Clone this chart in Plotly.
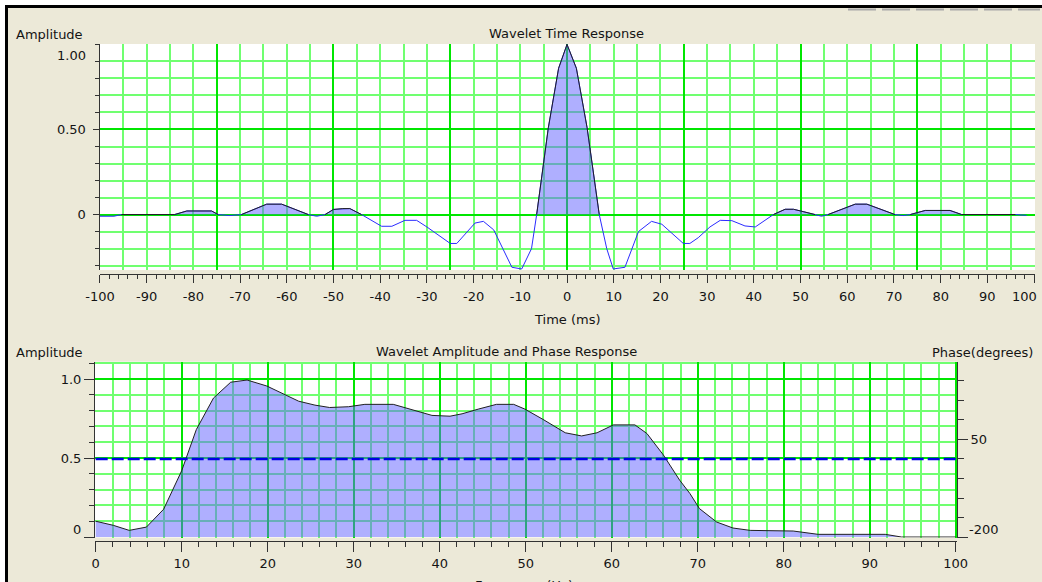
import plotly.graph_objects as go

W, H = 1042, 582


def px(x):
    return x / W


def py(y):
    return 1 - y / H


# ---------------- data ----------------
time_ms = [-100, -97, -95.4, -84, -81.4, -76.1, -74.7, -72.2, -69.7, -67.2, -64.3, -61.1,
           -57.2, -55.4, -53.6, -51.8, -50, -48, -46.5, -44, -39.7, -37.5, -34.7, -32.2,
           -30, -25, -23.6, -19.7, -17.9, -15.7, -11.8, -9.7, -7.6, -6.5, -4, -1.8, 0,
           2, 4.3, 6.9, 8.5, 9.9, 12.4, 15.3, 18.1, 20.3, 24.9, 26.3, 28.1, 30.6, 32.8,
           35.3, 38.1, 40.3, 44.2, 46.7, 48.5, 50.6, 53.1, 54.5, 55.9, 61.7, 64.2, 70.2,
           72, 73.5, 76.7, 82, 84.5, 96, 98.4]
amp_time = [-0.01, -0.01, 0, 0, 0.021, 0.021, 0, -0.006, 0, 0.03, 0.061, 0.061,
            0.021, 0, -0.01, 0, 0.03, 0.035, 0.035, 0, -0.069, -0.069, -0.034, -0.034,
            -0.073, -0.17, -0.17, -0.05, -0.04, -0.09, -0.31, -0.32, -0.2, 0, 0.51, 0.86, 1.0,
            0.86, 0.51, 0, -0.2, -0.32, -0.31, -0.10, -0.04, -0.057, -0.17, -0.17, -0.136, -0.073, -0.034,
            -0.036, -0.067, -0.073, 0, 0.031, 0.031, 0.017, 0, -0.01, 0, 0.061, 0.061, 0,
            -0.006, 0, 0.024, 0.024, 0, 0, -0.005]

freq_hz = [0, 2.05, 3.9, 5.9, 7.9, 10, 11.7, 13.7, 15.7, 17.6, 19.9, 22, 23.6, 25.5,
           27.2, 29.4, 31.3, 34.6, 36.6, 39.1, 41.2, 42.6, 44.5, 46.6, 48.6, 49.9, 52,
           54.6, 56.5, 58.3, 60.2, 62.7, 64.1, 66, 67.9, 69.1, 70.2, 72.2, 74.1, 76.1,
           81.1, 81.9, 84, 91.8, 93.5, 93.7, 100]
amp_freq = [0.10, 0.074, 0.042, 0.063, 0.176, 0.42, 0.68, 0.88, 0.98, 0.994, 0.956, 0.90,
            0.86, 0.835, 0.82, 0.825, 0.84, 0.84, 0.81, 0.77, 0.765, 0.78, 0.81, 0.84, 0.84,
            0.81, 0.745, 0.66, 0.64, 0.66, 0.71, 0.71, 0.655, 0.52, 0.36, 0.275, 0.18, 0.095,
            0.057, 0.042, 0.038, 0.032, 0.017, 0.017, 0.004, 0, 0]

phase_freq = [0, 100]
phase_deg = [0, 0]

x_top_ticks = list(range(-100, 101, 10))
# the last label ("100") is drawn pulled inside the frame, as in the original
x_top_text = [str(v) for v in x_top_ticks[:-1]] + [""]
x_bot_ticks = list(range(0, 101, 10))
x_bot_text = [str(v) for v in x_bot_ticks]

# positive lobes of the time response (filled)
amp_time_pos = [a if a >= 0 else None for a in amp_time]

# ---------------- styles ----------------
FONT = "DejaVu Sans"
TXT = "#141414"
BOLD = "#00e600"
THIN = "#70ff70"
FILL = "rgba(96,96,255,0.5)"
BG = "#ece9d8"

fig = go.Figure()
fig.add_trace(go.Scatter(x=time_ms, y=amp_time, mode="lines",
                         line=dict(color="#2b2bff", width=1),
                         xaxis="x", yaxis="y", hoverinfo="skip"))
fig.add_trace(go.Scatter(x=time_ms, y=amp_time_pos, mode="lines", connectgaps=False,
                         line=dict(color="#202020", width=1),
                         fill="tozeroy", fillcolor=FILL,
                         xaxis="x3", yaxis="y"))
fig.add_trace(go.Scatter(x=freq_hz, y=amp_freq, mode="lines",
                         line=dict(color="#202020", width=1),
                         fill="tozeroy", fillcolor=FILL,
                         xaxis="x2", yaxis="y2"))
fig.add_trace(go.Scatter(x=phase_freq, y=phase_deg, mode="lines",
                         line=dict(color="#0000e6", width=2.5, dash="12px,4px"),
                         xaxis="x2", yaxis="y4"))

tickfont = dict(family=FONT, size=13, color=TXT)

top_dom_x = [px(99.5), px(1035)]
top_dom_y = [py(270), py(44)]
bot_dom_x = [px(95), px(957)]
bot_dom_y = [py(537.5), py(361.7)]

fig.update_layout(
    template="none",
    width=W, height=H, autosize=False,
    margin=dict(l=0, r=0, t=0, b=0, pad=0, autoexpand=False),
    paper_bgcolor=BG, plot_bgcolor="white",
    showlegend=False,
    font=dict(family=FONT, size=13, color=TXT),
    # ----- top: grid axis -----
    xaxis=dict(domain=top_dom_x, range=[-100.1, 100.2], anchor="y", automargin=False,
               tickmode="linear", tick0=0, dtick=25,
               showgrid=True, gridcolor=BOLD, gridwidth=2,
               minor=dict(dtick=5, tick0=0, showgrid=True, gridcolor=THIN, gridwidth=1.5),
               showticklabels=False, ticks="", zeroline=False, showline=False),
    # ----- top: label axis -----
    xaxis3=dict(overlaying="x", range=[-100.1, 100.2], anchor="free", position=py(274),
                automargin=False,
                tickmode="array", tickvals=x_top_ticks, ticktext=x_top_text,
                ticks="outside", ticklen=8, tickcolor="#333", tickwidth=1,
                minor=dict(dtick=2, tick0=0, ticks="outside", ticklen=4, tickcolor="#333", showgrid=False),
                showgrid=False, zeroline=False, showline=True, linecolor="#333", linewidth=1,
                tickfont=tickfont, ticklabelstandoff=2),
    yaxis=dict(domain=top_dom_y, range=[-0.326, 1.0025], anchor="x", automargin=False,
               tickmode="array", tickvals=[0, 0.5], ticktext=["0", "0.50"],
               showgrid=True, gridcolor=BOLD, gridwidth=2,
               minor=dict(dtick=0.1, tick0=0, ticks="outside", ticklen=4, tickcolor="#333",
                          showgrid=True, gridcolor=THIN, gridwidth=1.5),
               ticks="outside", ticklen=6, tickcolor="#333",
               zeroline=False, showline=True, linecolor="#333", linewidth=1,
               tickfont=tickfont, ticklabelstandoff=4),
    # ----- bottom -----
    xaxis2=dict(domain=bot_dom_x, range=[-0.08, 100.15], anchor="free", position=py(541),
                automargin=False,
                tickmode="array", tickvals=x_bot_ticks, ticktext=x_bot_text,
                showgrid=True, gridcolor=BOLD, gridwidth=2,
                minor=dict(dtick=2, tick0=0, ticks="outside", ticklen=5, tickcolor="#333",
                           showgrid=True, gridcolor=THIN, gridwidth=1.5),
                ticks="outside", ticklen=10, tickcolor="#333",
                zeroline=False, showline=True, linecolor="#333", linewidth=1,
                tickfont=tickfont),
    yaxis2=dict(domain=bot_dom_y, range=[-0.003, 1.11], anchor="x2", automargin=False,
                tickmode="array", tickvals=[0, 0.5, 1.0], ticktext=["", "0.5", "1.0"],
                showgrid=True, gridcolor=BOLD, gridwidth=2,
                minor=dict(dtick=0.1, tick0=0, ticks="outside", ticklen=5, tickcolor="#333",
                           showgrid=True, gridcolor=THIN, gridwidth=1.5),
                ticks="outside", ticklen=10, tickcolor="#333",
                zeroline=False, showline=True, linecolor="#333", linewidth=1,
                tickfont=tickfont),
    yaxis4=dict(overlaying="y2", side="right", anchor="x2", range=[-200.5, 248], automargin=False,
                tickmode="array", tickvals=[-200, 50], ticktext=["", "50"],
                minor=dict(dtick=50, tick0=0, ticks="outside", ticklen=6, tickcolor="#333", showgrid=False),
                ticks="outside", ticklen=10, tickcolor="#333",
                showgrid=False, zeroline=False, showline=True, linecolor="#333", linewidth=1,
                tickfont=tickfont),
)

ann = [
    dict(text="Amplitude", x=px(14), y=py(34), xanchor="left"),
    dict(text="Wavelet Time Response", x=px(566), y=py(33), xanchor="center"),
    dict(text="Time (ms)", x=px(567), y=py(319), xanchor="center"),
    dict(text="1.00", x=px(88), y=py(55), xanchor="right"),
    dict(text="100", x=px(1024), y=py(296), xanchor="center"),
    dict(text="Amplitude", x=px(14), y=py(352), xanchor="left"),
    dict(text="Wavelet Amplitude and Phase Response", x=px(506), y=py(351), xanchor="center"),
    dict(text="Phase(degrees)", x=px(1035), y=py(352), xanchor="right"),
    dict(text="0", x=px(83), y=py(529), xanchor="right"),
    dict(text="-200", x=px(967), y=py(529), xanchor="left"),
]
annotations = []
for a in ann:
    a.update(xref="paper", yref="paper", yanchor="middle", showarrow=False,
             font=dict(family=FONT, size=13, color=TXT))
    annotations.append(a)
annotations.append(dict(text="Frequency (Hz)", x=px(524), y=py(576), xref="paper", yref="paper",
                        xanchor="center", yanchor="top", showarrow=False,
                        font=dict(family=FONT, size=13, color=TXT)))
fig.update_layout(annotations=annotations)

shapes = [
    dict(type="rect", xref="paper", yref="paper", x0=0, x1=px(5), y0=0, y1=1,
         fillcolor="white", line=dict(width=0)),
    dict(type="rect", xref="paper", yref="paper", x0=0, x1=1, y0=py(5), y1=1,
         fillcolor="white", line=dict(width=0)),
    dict(type="rect", xref="paper", yref="paper", x0=px(5), x1=px(8), y0=0, y1=py(5),
         fillcolor="black", line=dict(width=0)),
    dict(type="rect", xref="paper", yref="paper", x0=px(5), x1=1, y0=py(8), y1=py(5),
         fillcolor="black", line=dict(width=0)),
    dict(type="line", xref="paper", yref="paper", x0=px(848), x1=px(1040), y0=py(9.5), y1=py(9.5),
         line=dict(color="#a8a8a8", width=2, dash="28px,6px")),
]
fig.update_layout(shapes=shapes)

fig.write_html(
    "out.html",
    config={"responsive": False, "displayModeBar": False},
    post_script="document.body.style.margin='0';document.body.style.overflow='hidden';",
)
